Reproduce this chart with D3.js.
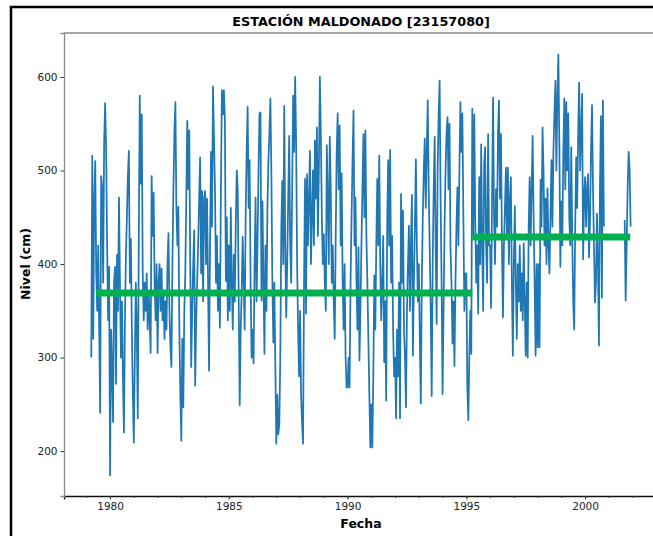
<!DOCTYPE html>
<html>
<head>
<meta charset="utf-8">
<script src="https://cdn.jsdelivr.net/npm/d3@7"></script>
<style>
  body { margin: 0; background: #fff; }
  text { font-family: "DejaVu Sans", sans-serif; }
</style>
</head>
<body>
<svg id="chart" width="653" height="536"></svg>
<script>
// serie de nivel, un dato cada medio mes (paso = 1/24 de año)
var paso = 1 / 24;
var inicioTramo1 = 1979 + 5 / 24;
var inicioTramo2 = 2001 + 16 / 24;

var nivel1979_1983 = [
  300,516,320,470,510,390,350,420,330,241,494,482,380,530,572,525,420,340,397,
  174,330,290,231,380,397,272,410,350,471,380,300,360,280,220,340,410,450,495,521,380,427,330,260,
  209,300,380,330,235,420,580,486,560,390,340,380,350,390,330,370,340,305,494,430,476,380,340,400,
  305,380,400,350,395,340,370,320,360,330,400,433,350,310,290,400,480,540,573,460,420,461,330,260,
  211,320,247,350,390,470,553,480,543,400,290,350,400,436,270,340,380,420,470,514,390,478,360,470
];
var nivel1984_1988 = [
  478,400,470,380,286,420,520,440,590,536,480,380,430,350,400,332,480,586,560,586,555,382,450,340,
  420,350,460,380,330,410,360,440,500,480,360,249,330,370,429,380,330,450,520,568,460,511,380,300,
  330,294,400,471,360,420,500,561,562,361,467,380,304,420,350,460,510,540,577,497,380,316,380,290,
  208,260,218,228,300,436,489,400,569,420,343,400,470,537,420,380,480,580,520,600,532,400,330,280,
  350,260,230,208,380,491,347,496,420,470,521,400,450,500,420,532,470,546,430,500,600,536,450,400
];
var nivel1989_1993 = [
  432,380,350,527,470,400,536,480,380,420,360,320,430,521,561,480,548,420,497,380,330,400,300,268,
  268,300,268,380,450,510,564,420,471,380,330,418,297,350,420,480,539,450,543,430,380,320,260,204,
  250,204,280,388,330,420,491,420,516,400,340,380,430,295,360,254,440,511,420,522,380,430,330,280,
  300,235,330,280,380,235,475,380,457,330,300,247,350,400,441,350,420,474,302,380,440,512,420,360,
  400,320,251,380,450,500,534,460,520,575,480,417,350,259,400,480,536,420,336,500,560,596,471,380
];
var nivel1994_1998 = [
  261,350,440,500,540,557,480,550,417,380,315,360,291,380,440,482,420,500,573,520,561,450,350,390,
  390,270,233,300,350,304,566,430,560,450,380,420,347,493,400,528,420,350,507,525,420,380,539,420,
  420,353,470,578,450,400,480,440,540,575,470,539,420,343,420,460,503,430,503,400,470,493,380,302,
  400,462,380,320,400,360,420,350,390,340,422,360,302,380,300,440,493,420,480,537,450,380,302,400,
  311,400,311,490,440,546,500,420,470,400,481,420,390,450,511,440,520,560,596,500,580,624,528,397
];
var nivel1999_2000 = [
  467,420,520,577,480,573,500,561,450,420,525,430,360,330,440,514,460,540,594,500,540,582,405,470,
  493,440,480,496,407,450,520,570,480,420,359,380,454,400,313,480,558,364,575,440
];
var nivel2001 = [447,361,420,480,520,501,440];

// niveles medios de cada periodo
var mediaInicio = [1979.41, 1995.25];
var mediaFin = [1995.25, 2001.9];
var mediaValor = [369, 429];

var xTicks = [1980, 1985, 1990, 1995, 2000];
var yTicks = [200, 300, 400, 500, 600];

var svg = d3.select("#chart");
var margin = { left: 64, top: 33, right: 658, bottom: 496 };

var x = d3.scaleLinear().domain([1978.06, 2003.07]).range([margin.left, margin.right]);
var y = d3.scaleLinear().domain([152, 647]).range([margin.bottom, margin.top]);

function tramo(valores, inicio) {
  return valores.map(function(v, i) { return { fecha: inicio + i * paso, nivel: v }; });
}
var tramo1 = tramo([].concat(nivel1979_1983, nivel1984_1988, nivel1989_1993, nivel1994_1998, nivel1999_2000), inicioTramo1);
var tramo2 = tramo(nivel2001, inicioTramo2);

// marco de la figura
svg.append("rect")
  .attr("x", 11).attr("y", 7)
  .attr("width", 700).attr("height", 600)
  .attr("fill", "none").attr("stroke", "#000").attr("stroke-width", 2.5);

svg.append("defs").append("clipPath").attr("id", "area")
  .append("rect").attr("x", margin.left).attr("y", margin.top)
  .attr("width", margin.right - margin.left).attr("height", margin.bottom - margin.top);

var plot = svg.append("g").attr("clip-path", "url(#area)");

var linea = d3.line()
  .x(function(d) { return x(d.fecha); })
  .y(function(d) { return y(d.nivel); });

[tramo1, tramo2].forEach(function(t) {
  plot.append("path")
    .datum(t)
    .attr("d", linea)
    .attr("fill", "none")
    .attr("stroke", "#1f77b4")
    .attr("stroke-width", 1.75)
    .attr("stroke-linejoin", "round");
});

mediaValor.forEach(function(v, i) {
  plot.append("line")
    .attr("x1", x(mediaInicio[i])).attr("x2", x(mediaFin[i]))
    .attr("y1", y(v)).attr("y2", y(v))
    .attr("stroke", "#00b050")
    .attr("stroke-width", 7);
});

// ejes
var ejeX = svg.append("g").attr("transform", "translate(0," + margin.bottom + ")");
ejeX.call(d3.axisBottom(x).tickValues(xTicks).tickFormat(d3.format("d")).tickSize(3.5).tickPadding(3));
var ejeXmenor = svg.append("g").attr("transform", "translate(0," + margin.bottom + ")");
ejeXmenor.call(d3.axisBottom(x).tickValues(d3.range(1979, 2003)).tickFormat("").tickSize(2));
ejeXmenor.select(".domain").remove();

var ejeY = svg.append("g").attr("transform", "translate(" + margin.left + ",0)");
ejeY.call(d3.axisLeft(y).tickValues(yTicks).tickSize(3.5).tickPadding(3));

svg.selectAll(".tick text").attr("font-size", 10.5).attr("fill", "#222").attr("font-family", "DejaVu Sans");
svg.selectAll(".tick line").attr("stroke", "#333");
ejeX.select(".domain").attr("stroke", "#111").attr("stroke-width", 1.3);
ejeY.select(".domain").attr("stroke", "#888").attr("stroke-width", 1.3);

svg.append("line")
  .attr("x1", margin.left).attr("x2", margin.right)
  .attr("y1", margin.top).attr("y2", margin.top)
  .attr("stroke", "#888").attr("stroke-width", 1.3);

// textos
svg.append("text")
  .attr("x", 361).attr("y", 26)
  .attr("text-anchor", "middle")
  .attr("font-size", 12.8).attr("font-weight", "bold")
  .text("ESTACIÓN MALDONADO [23157080]");

svg.append("text")
  .attr("x", 361).attr("y", 528)
  .attr("text-anchor", "middle")
  .attr("font-size", 12.5).attr("font-weight", "bold")
  .text("Fecha");

svg.append("text")
  .attr("transform", "translate(30,264) rotate(-90)")
  .attr("text-anchor", "middle")
  .attr("font-size", 12.5).attr("font-weight", "bold")
  .text("Nivel (cm)");
</script>
</body>
</html>
